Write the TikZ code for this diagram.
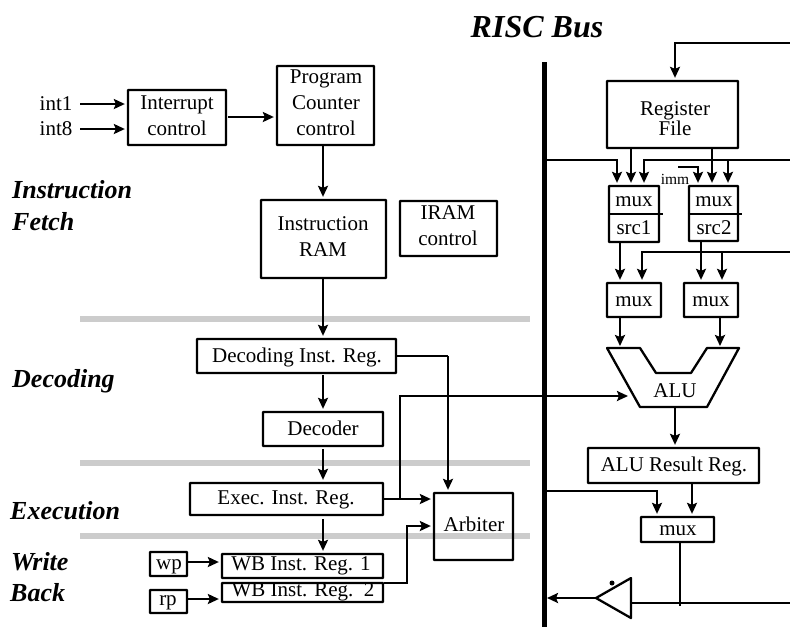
\documentclass[tikz,border=0pt]{standalone}
\usepackage{fontspec}
\setmainfont{Liberation Serif}
\usetikzlibrary{arrows.meta,fit}
\tikzset{
  box/.style={draw=black,line width=2.3pt,inner sep=0pt,rounded corners=0.5pt},
  lbl/.style={inner sep=0pt,align=center,font=\fontsize{21}{26}\selectfont},
  small/.style={inner sep=0pt,font=\fontsize{15.5}{17}\selectfont},
  stage/.style={inner sep=0pt,anchor=west,align=left,font=\fontsize{26}{32}\selectfont\bfseries\itshape},
  bustitle/.style={inner sep=0pt,font=\fontsize{32}{36}\selectfont\bfseries\itshape},
  band/.style={draw=none,fill=black!20},
  wire/.style={draw=black,line width=2.3pt},
  arr/.style={wire,-{Stealth[length=11pt,width=10pt,inset=2pt]},shorten >=2pt},
}
\newcommand{\bx}[8]{%
  \node[box,fit={(#2,#3)(#4,#5)}] (#1) {};
  \node[lbl] (#1-t) at (#6,#7) {#8};
}
\begin{document}
\begin{tikzpicture}[x=1pt,y=-1pt]
\useasboundingbox (0,0) rectangle (790,627);
% stage separators
\fill[band] (80,316) rectangle (530,322);
\fill[band] (80,460) rectangle (530,466);
\fill[band] (80,533) rectangle (530,539);
% stage titles
\node[bustitle] (title) at (537,27) {RISC Bus};
\node[stage] (s1) at (12,190) {Instruction};
\node[stage] (s2) at (12,222) {Fetch};
\node[stage] (s3) at (12,381) {Decoding};
\node[stage] (s4) at (10,511) {Execution};
\node[stage] (s5) at (11,562) {Write};
\node[stage] (s6) at (10,593) {Back};
% left column
\node[lbl] (int1) at (56,104) {int1};
\node[lbl] (int8) at (56,129) {int8};
\bx{intr}{128}{90}{226}{145}{177}{116}{Interrupt\\control}
\bx{pc}{277}{66}{374}{145}{326}{103}{Program\\Counter\\control}
\bx{iram}{261}{200}{386}{278}{323}{237}{Instruction\\RAM}
\bx{irc}{400}{201}{497}{256}{448}{226}{IRAM\\control}
\bx{dreg}{197}{339}{396}{373}{297}{357}{Decoding Inst. Reg.}
\bx{dec}{263}{412}{383}{446}{323}{428}{Decoder}
\bx{ereg}{190}{483}{383}{515}{286}{500}{Exec. Inst. Reg.}
\bx{wb1}{222}{554}{383}{578}{301}{566}{WB Inst. Reg. 1}
\bx{wb2}{222}{583}{383}{602}{303}{592}{WB Inst. Reg.\ \ 2}
\bx{wp}{150}{552}{187}{576}{169}{567}{wp}
\bx{rp}{150}{590}{187}{613}{168}{603}{rp}
\bx{arb}{434}{493}{513}{560}{474}{524}{Arbiter}
% right column
\bx{rf}{607}{81}{738}{148}{675}{119}{Register\\[-6pt]File}
\bx{m1}{609}{186}{659}{242}{634}{202}{mux}
\node[lbl] (src1) at (634,228) {src1};
\bx{m2}{689}{186}{738}{241}{714}{202}{mux}
\node[lbl] (src2) at (714,228) {src2};
\bx{m3}{607}{283}{661}{317}{634}{302}{mux}
\bx{m4}{684}{283}{738}{317}{711}{302}{mux}
\bx{res}{588}{448}{759}{483}{674}{466}{ALU Result Reg.}
\bx{m5}{641}{517}{714}{542}{678}{531}{mux}
\node[small] (imm) at (675,179) {imm};
% ALU outline
\coordinate (aluA) at (607,348);
\coordinate (aluB) at (640,348);
\coordinate (aluC) at (656,373);
\coordinate (aluD) at (691,373);
\coordinate (aluE) at (707,348);
\coordinate (aluF) at (739,348);
\coordinate (aluG) at (707,407);
\coordinate (aluH) at (640,407);
\draw[wire,line join=round] (aluA)--(aluB)--(aluC)--(aluD)--(aluE)--(aluF)--(aluG)--(aluH)--cycle;
\node[lbl] (alu) at (675,391) {ALU};
% buffer
\coordinate (bufT) at (631,578);
\coordinate (bufB) at (631,618);
\coordinate (bufA) at (596,598);
\draw[wire,line join=round] (bufT)--(bufB)--(bufA)--cycle;
\fill (612,583) circle (2.5pt);
% bus
\coordinate (busT) at (544,62);
\coordinate (busB) at (544,627);
\draw[line width=5pt] (busT)--(busB);
% free ends on the right edge
\coordinate (e1) at (790,43);
\coordinate (e2) at (790,160);
\coordinate (e3) at (790,252);
\coordinate (e4) at (790,603);
% left connectors
\coordinate (i1) at (80,104);
\coordinate (i2) at (80,129);
\draw[arr] (i1) -- (intr.west |- i1);
\draw[arr] (i2) -- (intr.west |- i2);
\draw[arr] (228,117) -- (pc.west |- 0,117);
\draw[arr] (323,0 |- pc.south) -- (323,0 |- iram.north);
\draw[arr] (323,0 |- iram.south) -- (323,0 |- dreg.north);
\draw[arr] (323,375) -- (323,0 |- dec.north);
\draw[arr] (323,449) -- (323,0 |- ereg.north);
\draw[arr] (323,519) -- (323,0 |- wb1.north);
\draw[wire] (dreg.east |- 0,356) -- (448,356);
\draw[arr] (448,356) -- (448,0 |- arb.north);
\draw[arr] (ereg.east |- 0,499) -- (arb.west |- 0,499);
\draw[arr] (400,499) -- (400,396) -- (630,396);
\draw[arr] (wb2.east |- 0,583) -- (407,583) -- (407,526) -- (arb.west |- 0,526);
\draw[arr] (wp.east |- 0,562) -- (wb1.west |- 0,562);
\draw[arr] (rp.east |- 0,599) -- (wb2.west |- 0,599);
% right connectors
\draw[arr] (e1) -- (675,43) -- (675,0 |- rf.north);
\draw[arr] (546,160) -- (617,160) -- (617,0 |- m1.north);
\draw[arr] (631,0 |- rf.south) -- (631,0 |- m1.north);
\draw[arr] (e2) -- (644,160) -- (644,0 |- m1.north);
\draw[arr] (728,160) -- (728,0 |- m2.north);
\draw[arr] (712,0 |- rf.south) -- (712,0 |- m2.north);
\draw[arr] (678,167) -- (698,167) -- (698,0 |- m2.north);
\draw[wire] (m1.west |- 0,214) -- (663,214);
\draw[wire] (m2.west |- 0,214) -- (742,214);
\draw[arr] (620,0 |- m1.south) -- (620,0 |- m3.north);
\draw[arr] (701,0 |- m2.south) -- (701,0 |- m4.north);
\draw[arr] (e3) -- (642,252) -- (642,0 |- m3.north);
\draw[arr] (722,252) -- (722,0 |- m4.north);
\draw[arr] (620,0 |- m3.south) -- (620,0 |- aluA);
\draw[arr] (720,0 |- m4.south) -- (720,0 |- aluA);
\draw[arr] (675,0 |- aluH) -- (675,0 |- res.north);
\draw[arr] (546,491) -- (657,491) -- (657,0 |- m5.north);
\draw[arr] (692,0 |- res.south) -- (692,0 |- m5.north);
\draw[wire] (680,0 |- m5.south) -- (680,606);
\draw[wire] (bufT |- e4) -- (e4);
\draw[arr,shorten >=0pt] (bufA) -- (547,598);
\end{tikzpicture}
\end{document}
